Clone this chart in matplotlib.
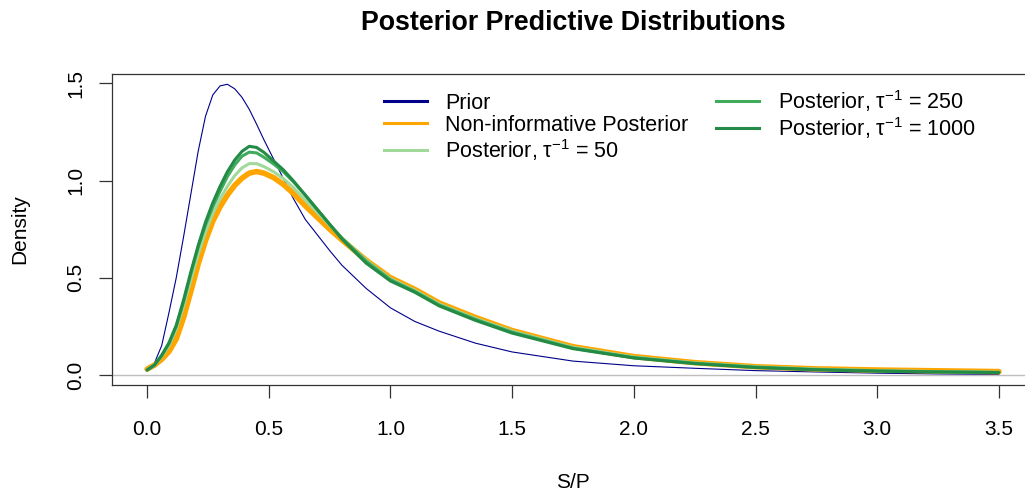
import matplotlib
matplotlib.use("Agg")
import matplotlib.pyplot as plt
from matplotlib.lines import Line2D

plt.rcParams['font.family'] = ['Liberation Sans', 'DejaVu Sans']
plt.rcParams['mathtext.fontset'] = 'custom'
plt.rcParams['mathtext.rm'] = 'Liberation Sans'
plt.rcParams['mathtext.it'] = 'Liberation Sans:italic'

# S/P grid the densities are read on
sp = [0.0, 0.03, 0.06, 0.09, 0.12, 0.15, 0.18, 0.21, 0.24, 0.27, 0.30, 0.33,
      0.36, 0.39, 0.42, 0.45, 0.48, 0.52, 0.56, 0.60, 0.65, 0.70, 0.75, 0.80,
      0.90, 1.00, 1.10, 1.20, 1.35, 1.50, 1.75, 2.00, 2.25, 2.50, 2.75, 3.00,
      3.25, 3.50]

prior = [0.02, 0.06, 0.15, 0.32, 0.50, 0.71, 0.93, 1.15, 1.33, 1.44, 1.487,
         1.495, 1.472, 1.428, 1.366, 1.29, 1.21, 1.11, 1.01, 0.91, 0.80, 0.72,
         0.64, 0.565, 0.445, 0.345, 0.275, 0.225, 0.163, 0.118, 0.071, 0.047,
         0.034, 0.022, 0.015, 0.009, 0.005, 0.003]

noninf = [0.03, 0.05, 0.08, 0.12, 0.185, 0.295, 0.43, 0.57, 0.69, 0.79, 0.865,
          0.925, 0.975, 1.012, 1.038, 1.046, 1.038, 1.015, 0.98, 0.935, 0.87,
          0.81, 0.75, 0.695, 0.59, 0.50, 0.44, 0.37, 0.295, 0.228, 0.145,
          0.094, 0.063, 0.042, 0.031, 0.025, 0.021, 0.017]

post50 = [0.028, 0.05, 0.095, 0.15, 0.235, 0.355, 0.49, 0.62, 0.735, 0.83,
          0.905, 0.97, 1.025, 1.065, 1.087, 1.087, 1.072, 1.045, 1.01, 0.965,
          0.90, 0.835, 0.77, 0.705, 0.59, 0.495, 0.435, 0.365, 0.29, 0.225,
          0.142, 0.092, 0.062, 0.042, 0.03, 0.022, 0.017, 0.014]

post250 = [0.025, 0.05, 0.10, 0.16, 0.25, 0.375, 0.52, 0.655, 0.77, 0.865,
           0.945, 1.02, 1.08, 1.125, 1.146, 1.142, 1.12, 1.085, 1.045, 0.995,
           0.925, 0.85, 0.775, 0.705, 0.585, 0.49, 0.43, 0.36, 0.285, 0.22,
           0.138, 0.089, 0.06, 0.04, 0.028, 0.021, 0.016, 0.013]

post1000 = [0.025, 0.05, 0.10, 0.165, 0.255, 0.385, 0.53, 0.665, 0.785, 0.885,
            0.97, 1.045, 1.105, 1.15, 1.176, 1.17, 1.145, 1.10, 1.055, 1.00,
            0.925, 0.85, 0.775, 0.70, 0.575, 0.483, 0.425, 0.355, 0.28, 0.215,
            0.135, 0.087, 0.058, 0.038, 0.026, 0.019, 0.015, 0.012]

labels = ['Prior', 'Non-informative Posterior',
          r'Posterior, $\mathregular{\tau^{-1}}$ = 50',
          r'Posterior, $\mathregular{\tau^{-1}}$ = 250',
          r'Posterior, $\mathregular{\tau^{-1}}$ = 1000']
colors = ['#00008B', '#FFA500', '#A1D99B', '#41AB5D', '#238B45']
widths = [0.8, 4.0, 2.2, 2.2, 2.2]

fig = plt.figure(figsize=(10.25, 4.9), dpi=100)
# plot box runs a little past the right edge of the canvas
ax = fig.add_axes([112 / 1025, 105 / 490, 922 / 1025, 311 / 490])

ax.axhline(0, color='#BEBEBE', lw=1, zorder=1)
for ys, c, w in zip([prior, noninf, post50, post250, post1000], colors, widths):
    ax.plot(sp, ys, color=c, lw=w, solid_joinstyle='round',
            solid_capstyle='round', zorder=2)

ax.set_xlim(-0.144, 3.644)
ax.set_ylim(-0.052, 1.548)
ax.set_xticks([0, 0.5, 1, 1.5, 2, 2.5, 3, 3.5])
ax.set_xticklabels(['0.0', '0.5', '1.0', '1.5', '2.0', '2.5', '3.0', '3.5'])
ax.set_yticks([0, 0.5, 1, 1.5])
ax.set_yticklabels(['0.0', '0.5', '1.0', '1.5'], rotation=90, va='center')
ax.tick_params(direction='out', length=9.4, width=0.9, color='#333333',
               labelsize=15)
ax.tick_params(axis='x', pad=15.5)
ax.tick_params(axis='y', pad=9.8)
for s in ax.spines.values():
    s.set_color('#333333')
    s.set_linewidth(0.9)

ax.set_xlabel('S/P', fontsize=15)
ax.xaxis.set_label_coords(0.5, -0.331)
ax.xaxis.label.set_va('baseline')
ax.set_ylabel('Density', fontsize=15)
ax.yaxis.set_label_coords(-0.100, 0.5)
ax.yaxis.label.set_va('center')

fig.text(573 / 1025, 1 - 29.5 / 490, 'Posterior Predictive Distributions',
         ha='center', va='baseline', fontsize=19.3, fontweight='bold')

handles = [Line2D([], [], color=c, lw=2.2) for c in colors]
ax.legend(handles, labels, ncol=2, frameon=False, fontsize=15.5,
          loc='upper left', bbox_to_anchor=(384 / 1025, 1 - 88 / 490),
          bbox_transform=fig.transFigure, borderpad=0, borderaxespad=0,
          handlelength=2.0, handletextpad=0.84, columnspacing=1.3,
          labelspacing=0.05)

fig.savefig('out.png', dpi=100)
